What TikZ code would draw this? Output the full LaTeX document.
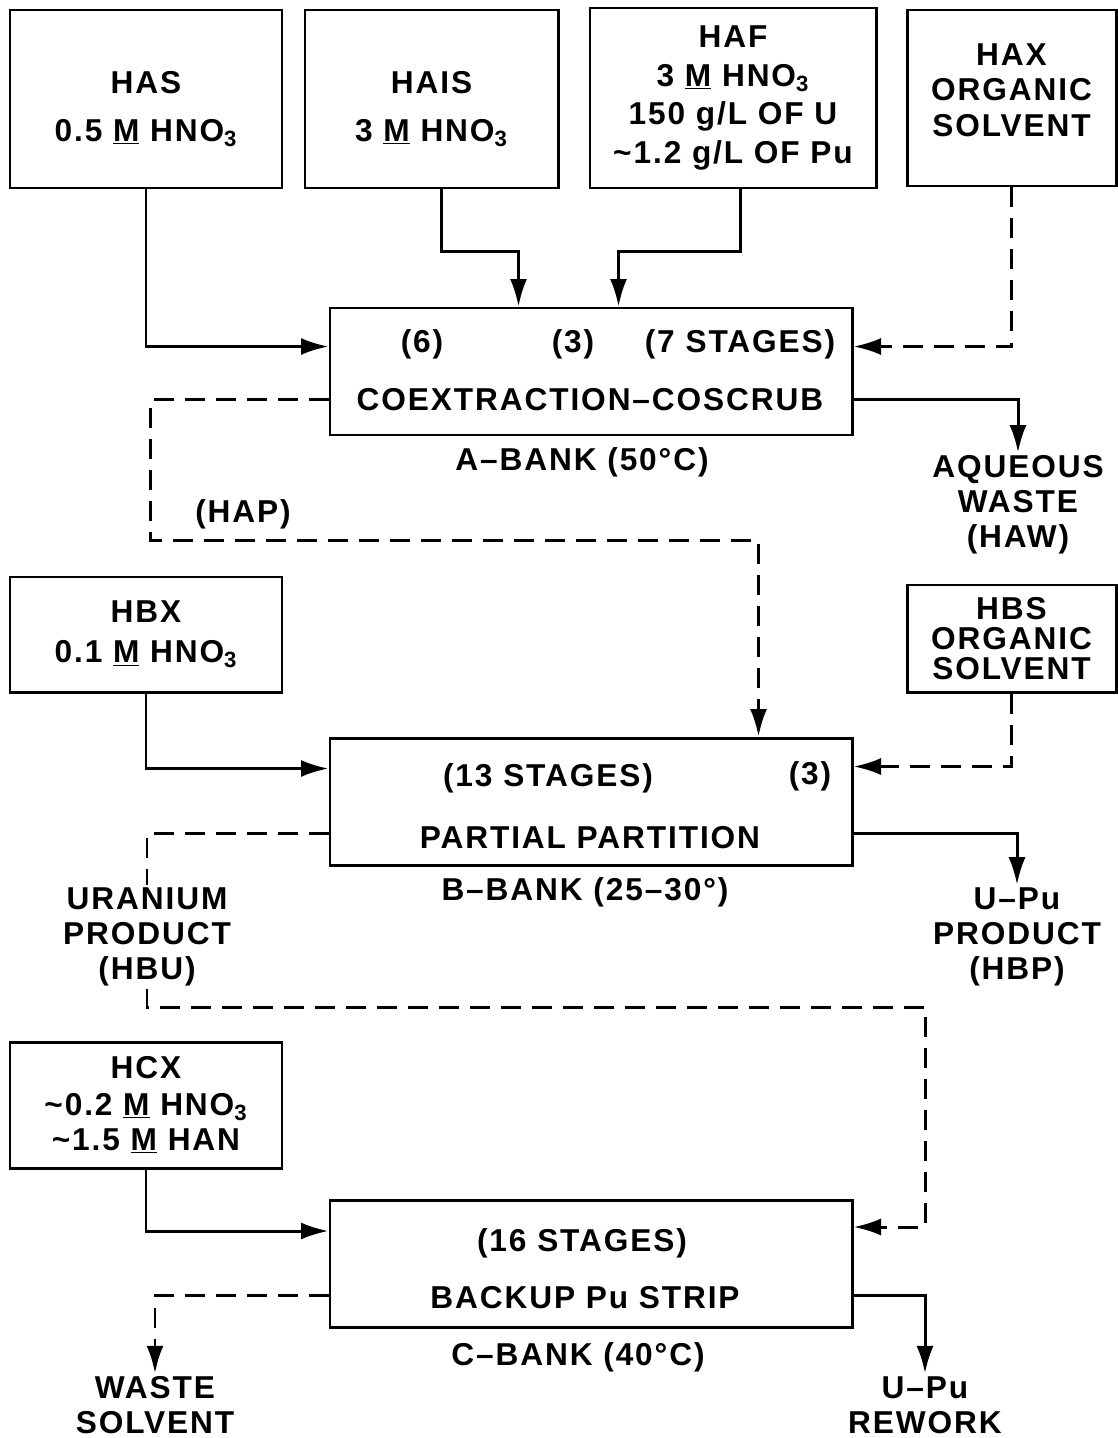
\documentclass[tikz,border=0pt]{standalone}
\usepackage{fontspec}
\setmainfont[LetterSpace=6]{Liberation Sans}
\usetikzlibrary{arrows.meta,calc}

\begin{document}
\begin{tikzpicture}[x=0.2mm,y=-0.2mm,font=\bfseries\fontsize{18}{20}\selectfont,
  feed/.style={draw,line width=1.7pt,align=center,inner sep=0pt},
  bank/.style={draw,line width=1.7pt,minimum width=104.4mm,minimum height=25.4mm},
  txt/.style={align=center,inner sep=1.5pt},
  line/.style={line width=1.7pt},
  flow/.style={line,-{Latex[length=5.5mm,width=3.4mm]}},
  dsh/.style={line,dash pattern=on 4mm off 2.2mm},
  org/.style={dsh,-{Latex[length=5.5mm,width=3.4mm]}}]
  \useasboundingbox (0,0) rectangle (1117,1438);
  \node[feed,minimum width=54.4mm,minimum height=35.6mm] (has) at (146,99) {\rule{0pt}{24pt}HAS\\[7pt]0.5 \underline{M} HNO\textsubscript{3}};
  \node[feed,minimum width=50.6mm,minimum height=35.6mm] (hais) at (431.5,99) {\rule{0pt}{24pt}HAIS\\[7pt]3 \underline{M} HNO\textsubscript{3}};
  \node[feed,minimum width=57.2mm,minimum height=36mm] (haf) at (733,98) {HAF\\[2pt]3 \underline{M} HNO\textsubscript{3}\\[2pt]150 g/L OF U\\[2pt]\textasciitilde1.2 g/L OF Pu};
  \node[feed,minimum width=41.8mm,minimum height=35.2mm] (hax) at (1011.5,98) {HAX\\ORGANIC\\SOLVENT\rule[-9pt]{0pt}{9pt}};
  \node[bank] (abank) at (591,371.5) {};
  \node[txt] (a6) at (422,344) {(6)};
  \node[txt] (a3) at (573,344) {(3)};
  \node[txt] (a7) at (740,344) {(7 STAGES)};
  \node[txt] (coex) at (590,400) {COEXTRACTION--COSCRUB};
  \node[txt] (abk) at (582,462) {A--BANK (50°C)};
  \node[txt] (hap) at (243,514) {(HAP)};
  \node[txt] (haw) at (1018,505) {AQUEOUS\\WASTE\\(HAW)};
  \node[feed,minimum width=54.4mm,minimum height=23mm] (hbx) at (146,634.5) {HBX\\[3pt]0.1 \underline{M} HNO\textsubscript{3}};
  \node[feed,minimum width=41.8mm,minimum height=21.4mm] (hbs) at (1011.5,638.5) {HBS\\[-3pt]ORGANIC\\[-3pt]SOLVENT};
  \node[bank] (bbank) at (591,801.5) {};
  \node[txt] (b13) at (548,778) {(13 STAGES)};
  \node[txt] (b3) at (810,776) {(3)};
  \node[txt] (part) at (590,838) {PARTIAL PARTITION};
  \node[txt] (bbk) at (585,892) {B--BANK (25--30°)};
  \node[txt] (hbu) at (147,937) {URANIUM\\PRODUCT\\(HBU)};
  \node[txt] (hbp) at (1017,937) {U--Pu\\PRODUCT\\(HBP)};
  \node[feed,minimum width=54.4mm,minimum height=25.2mm] (hcx) at (146,1105) {HCX\\[1pt]\textasciitilde0.2 \underline{M} HNO\textsubscript{3}\\\textasciitilde1.5 \underline{M} HAN};
  \node[bank] (cbank) at (591,1264) {};
  \node[txt] (c16) at (582,1243) {(16 STAGES)};
  \node[txt] (pustrip) at (585,1298) {BACKUP Pu STRIP};
  \node[txt] (cbk) at (578,1357) {C--BANK (40°C)};
  \node[txt] (wsol) at (155,1405) {WASTE\\SOLVENT};
  \node[txt] (rew) at (925,1405) {U--Pu\\REWORK};
  \coordinate (ret) at (925,1007);
  \draw[flow] (has.south) |- ($(abank.north west)+(0,40)$);
  \draw[flow] ([xshift=2mm]hais.south) -- ++(0,62) -| ($(abank.north west)+(190,0)$);
  \draw[flow] ([xshift=1.4mm]haf.south) -- ++(0,62) -| ($(abank.north west)+(290,0)$);
  \draw[org] (hax.south) |- ($(abank.north east)+(0,40)$);
  \draw[org] ($(abank.north west)+(0,93)$) -- ++(-178,0) -- ++(0,141) -| ($(bbank.north west)+(430,0)$);
  \draw[flow] ($(abank.north east)+(0,93)$) -| (haw.north);
  \draw[flow] (hbx.south) |- ($(bbank.north west)+(0,32)$);
  \draw[org] (hbs.south) |- ($(bbank.north east)+(0,30)$);
  \draw[dsh] ($(bbank.north west)+(0,97)$) -| (hbu.north);
  \draw[flow] ($(bbank.north east)+(0,97)$) -| (hbp.north);
  \draw[org] (hbu.south) |- (ret) |- ($(cbank.north east)+(0,28)$);
  \draw[flow] (hcx.south) |- ($(cbank.north west)+(0,32)$);
  \draw[org] ($(cbank.north west)+(0,96)$) -| (wsol.north);
  \draw[flow] ($(cbank.north east)+(0,96)$) -| (rew.north);
\end{tikzpicture}
\end{document}
